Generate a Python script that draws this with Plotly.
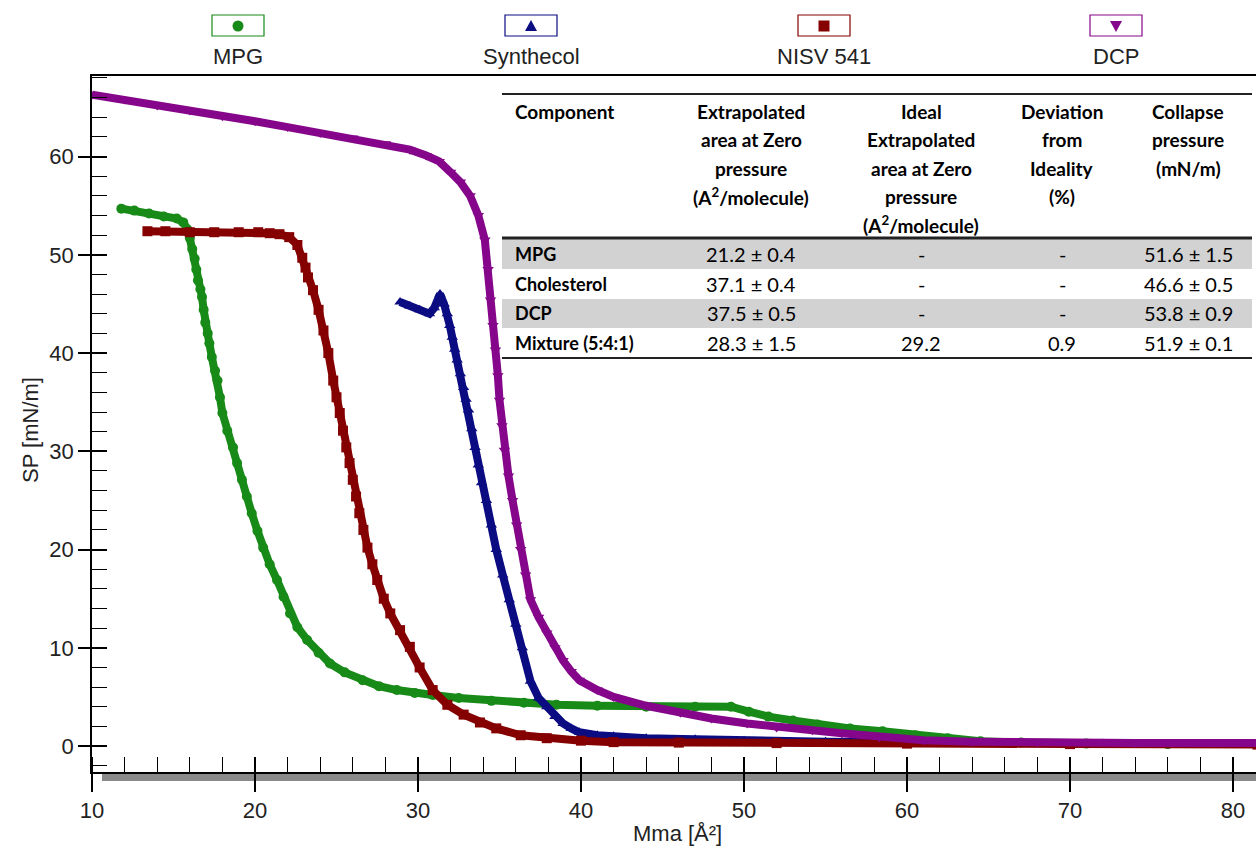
import plotly.graph_objects as go

# ---------------- data ----------------
series_names = ["MPG", "Synthecol", "NISV 541", "DCP"]
series_colors = ["#178a17", "#0b0b82", "#850000", "#85068a"]
series_symbols = ["circle", "triangle-up", "square", "triangle-down"]

mpg_x = [11.8, 12.6, 13.5, 14.4, 15.2, 15.6, 15.85, 16.0, 16.15, 16.3, 16.4, 16.5, 16.65, 16.75,
         16.85, 16.95, 17.1, 17.2, 17.35, 17.55, 17.7, 17.85, 18.0, 18.3, 18.65, 18.9, 19.2, 19.5,
         19.8, 20.15, 20.5, 20.9, 21.35, 21.75, 22.15, 22.6, 23.2, 23.9, 24.6, 25.5, 26.6, 27.6,
         28.7, 29.8, 30.9, 32.5, 34.5, 36.5, 38.5, 41.0, 44.0, 47.0, 49.2, 50.3, 51.5, 53.0, 54.5,
         56.5, 58.5, 60.5, 62.5, 64.5, 67.0, 71.0, 76.0, 81.5]
mpg_y = [54.7, 54.5, 54.2, 53.9, 53.7, 53.3, 52.6, 51.7, 50.6, 49.6, 48.5, 47.4, 46.5, 45.7,
         44.4, 43.1, 42.0, 41.0, 39.6, 38.2, 37.2, 35.5, 33.9, 32.1, 30.4, 28.8, 27.1, 25.4,
         23.7, 21.9, 20.2, 18.5, 16.9, 15.2, 13.5, 12.1, 10.8, 9.5, 8.4, 7.5, 6.7, 6.1,
         5.7, 5.4, 5.2, 4.9, 4.6, 4.4, 4.2, 4.1, 4.0, 4.0, 4.0, 3.5, 3.0, 2.6, 2.2,
         1.8, 1.5, 1.1, 0.8, 0.5, 0.35, 0.25, 0.2, 0.2]

syn_x = [28.9, 29.5, 30.1, 30.7, 31.0, 31.35, 31.6, 31.8, 31.95, 32.1, 32.25, 32.4, 32.6, 32.8,
         32.95, 33.1, 33.3, 33.5, 33.7, 33.9, 34.2, 34.5, 34.8, 35.2, 35.6, 36.0, 36.4, 36.9,
         37.4, 37.9, 38.4, 38.9, 39.4, 39.9, 41.0, 42.0, 44.0, 47.0, 50.0, 55.0, 60.0, 66.0,
         72.0, 81.5]
syn_y = [45.2, 44.8, 44.4, 44.0, 44.6, 46.0, 45.0, 44.0, 42.8, 41.6, 40.4, 39.3, 37.9, 36.5,
         35.3, 34.2, 32.3, 30.4, 28.6, 26.8, 25.0, 22.5, 20.0, 17.4, 14.9, 12.4, 10.0, 6.6,
         4.9, 4.0, 3.0, 2.3, 1.8, 1.4, 1.1, 1.0, 0.8, 0.7, 0.55, 0.45, 0.35, 0.3,
         0.25, 0.2]

nisv_x = [13.4, 14.5, 16.0, 17.5, 19.0, 20.2, 20.9, 21.5, 22.1, 22.6, 22.9, 23.1, 23.25, 23.56,
          23.9, 24.2, 24.5, 24.8, 25.0, 25.2, 25.4, 25.6, 25.8, 26.0, 26.2, 26.4, 26.65, 26.9,
          27.2, 27.5, 27.9, 28.3, 28.9, 29.5, 30.1, 30.9, 31.8, 32.8, 33.8, 34.8, 36.3, 37.9,
          40.0, 42.0, 46.0, 52.0, 60.0, 70.0, 81.5]
nisv_y = [52.4, 52.4, 52.3, 52.3, 52.3, 52.3, 52.2, 52.1, 51.8, 51.0, 49.7, 48.7, 47.7, 46.4,
          44.4, 42.3, 40.0, 37.2, 35.5, 33.9, 32.1, 30.4, 28.8, 27.1, 25.4, 23.7, 22.0, 20.2,
          18.5, 16.9, 15.0, 13.5, 11.8, 10.1, 8.0, 5.7, 4.2, 3.2, 2.4, 1.8, 1.1, 0.8,
          0.55, 0.4, 0.35, 0.3, 0.25, 0.2, 0.15]

dcp_x = [10.0, 12.0, 14.0, 16.0, 18.0, 20.0, 22.0, 24.0, 26.0, 28.0, 29.5, 30.5, 31.3, 32.0,
         32.6, 33.2, 33.7, 34.1, 34.3, 34.45, 34.6, 34.75, 34.9, 35.0, 35.15, 35.3, 35.55, 35.8,
         36.05, 36.3, 36.6, 36.9, 37.4, 37.9, 38.4, 38.9, 39.4, 39.9, 41.0, 42.0, 44.0, 46.1,
         48.0, 50.2, 52.0, 54.2, 56.0, 58.3, 61.0, 64.0, 68.0, 74.0, 81.5]
dcp_y = [66.3, 65.8, 65.2, 64.7, 64.1, 63.6, 63.0, 62.4, 61.9, 61.3, 60.7, 60.1, 59.5, 58.4,
         57.4, 56.0, 54.0, 51.5, 48.5, 45.4, 42.8, 40.3, 37.7, 35.2, 32.6, 30.1, 27.5, 25.0,
         22.5, 20.0, 17.4, 14.9, 13.1, 11.5, 10.0, 8.7, 7.6, 6.7, 5.7, 5.0, 4.1, 3.4,
         2.8, 2.3, 1.9, 1.6, 1.3, 0.9, 0.6, 0.45, 0.35, 0.3, 0.3]

series_x = [mpg_x, syn_x, nisv_x, dcp_x]
series_y = [mpg_y, syn_y, nisv_y, dcp_y]

x_range = [10, 81.41]
y_range = [-2.64, 68.2]

# table content
table_header_cols = [
    ["Component"],
    ["Extrapolated", "area at Zero", "pressure", "(A<sup>2</sup>/molecule)"],
    ["Ideal", "Extrapolated", "area at Zero", "pressure", "(A<sup>2</sup>/molecule)"],
    ["Deviation", "from", "Ideality", "(%)"],
    ["Collapse", "pressure", "(mN/m)"],
]
table_rows = ["MPG", "Cholesterol", "DCP", "Mixture (5:4:1)"]
col_extrap = ["21.2 \u00b1 0.4", "37.1 \u00b1 0.4", "37.5 \u00b1 0.5", "28.3 \u00b1 1.5"]
col_ideal = ["-", "-", "-", "29.2"]
col_dev = ["-", "-", "-", "0.9"]
col_collapse = ["51.6 \u00b1 1.5", "46.6 \u00b1 0.5", "53.8 \u00b1 0.9", "51.9 \u00b1 0.1"]

# ---------------- layout geometry (pixels) ----------------
W, H = 1256, 849
L, R, T, B = 92, 0, 76, 77
PW, PH = W - L - R, H - T - B


def px(x):
    return (x - L) / PW


def py(y):
    return (H - B - y) / PH


fig = go.Figure()

for name, xs, ys, col, sym in zip(series_names, series_x, series_y, series_colors, series_symbols):
    fig.add_trace(go.Scatter(
        x=xs, y=ys, name=name, mode="lines+markers",
        line=dict(color=col, width=8),
        marker=dict(symbol=sym, size=10, color=col),
        showlegend=False, hoverinfo="skip"))

# overlay axes (no visible data) used to draw the inner half of the major ticks
fig.add_trace(go.Scatter(x=[10], y=[0], xaxis="x2", yaxis="y2", mode="markers",
                         marker=dict(size=1, opacity=0), showlegend=False, hoverinfo="skip"))

tickfont = dict(family="Liberation Sans, Arial, sans-serif", size=22, color="#222")

fig.update_layout(
    width=W, height=H,
    margin=dict(l=L, r=R, t=T, b=B),
    paper_bgcolor="white", plot_bgcolor="white",
    showlegend=False,
    xaxis=dict(range=x_range, showline=True, linecolor="black", linewidth=1.5, mirror=True,
               ticks="outside", ticklen=18, tickwidth=1.5, tickcolor="black",
               tick0=10, dtick=10, showgrid=False, zeroline=False, tickfont=tickfont,
               minor=dict(ticks="inside", ticklen=15, tickwidth=1.2, tickcolor="black",
                          dtick=2, tick0=10, showgrid=False)),
    yaxis=dict(range=y_range, showline=True, linecolor="black", linewidth=1.5,
               ticks="outside", ticklen=12, tickwidth=1.5, tickcolor="black",
               tick0=0, dtick=10, showgrid=False, zeroline=False, tickfont=tickfont,
               minor=dict(ticks="inside", ticklen=15, tickwidth=1.2, tickcolor="black",
                          dtick=2, tick0=0, showgrid=False)),
    xaxis2=dict(range=x_range, overlaying="x", anchor="y", side="bottom",
                ticks="inside", ticklen=15, tickwidth=1.5, tickcolor="black",
                tick0=10, dtick=10, showticklabels=False, showgrid=False,
                zeroline=False, showline=False),
    yaxis2=dict(range=y_range, overlaying="y", anchor="x", side="left",
                ticks="inside", ticklen=15, tickwidth=1.5, tickcolor="black",
                tick0=0, dtick=10, showticklabels=False, showgrid=False,
                zeroline=False, showline=False),
)

shapes = []
ann = []

# grey bar under the x axis
shapes.append(dict(type="rect", xref="paper", yref="paper", x0=px(102), x1=1.0,
                   y0=py(781), y1=py(773), fillcolor="#8a8a8a", line=dict(width=0),
                   layer="below"))

# axis titles
title_font = dict(family="Liberation Sans, Arial, sans-serif", size=22, color="#222")
ann.append(dict(text="Mma [\u00c5\u00b2]", x=px(677), y=py(833), xref="paper", yref="paper",
                showarrow=False, xanchor="center", yanchor="middle", font=title_font))
ann.append(dict(text="SP [mN/m]", x=px(30), y=py(430), xref="paper", yref="paper",
                showarrow=False, xanchor="center", yanchor="middle", textangle=-90,
                font=title_font))


def poly(points):
    return "M " + " L ".join(f"{px(a):.5f},{py(b):.5f}" for a, b in points) + " Z"


# legend on top (box + symbol + label)
legend_centers = [238, 531, 824, 1116]
for cx, name, col, sym in zip(legend_centers, series_names, series_colors, series_symbols):
    shapes.append(dict(type="rect", xref="paper", yref="paper", x0=px(cx - 26), x1=px(cx + 26),
                       y0=py(36), y1=py(15), line=dict(color=col, width=1.2),
                       fillcolor="white"))
    cy = 26
    if sym == "circle":
        shapes.append(dict(type="circle", xref="paper", yref="paper",
                           x0=px(cx - 5.5), x1=px(cx + 5.5), y0=py(cy + 5.5), y1=py(cy - 5.5),
                           fillcolor=col, line=dict(width=0)))
    elif sym == "square":
        shapes.append(dict(type="rect", xref="paper", yref="paper",
                           x0=px(cx - 5.5), x1=px(cx + 5.5), y0=py(cy + 5.5), y1=py(cy - 5.5),
                           fillcolor=col, line=dict(width=0)))
    elif sym == "triangle-up":
        shapes.append(dict(type="path", xref="paper", yref="paper",
                           path=poly([(cx - 6, cy + 5), (cx + 6, cy + 5), (cx, cy - 6)]),
                           fillcolor=col, line=dict(width=0)))
    else:
        shapes.append(dict(type="path", xref="paper", yref="paper",
                           path=poly([(cx - 6, cy - 5), (cx + 6, cy - 5), (cx, cy + 6)]),
                           fillcolor=col, line=dict(width=0)))
    ann.append(dict(text=name, x=px(cx), y=py(57), xref="paper", yref="paper", showarrow=False,
                    xanchor="center", yanchor="middle", font=title_font))

# table
TX0, TX1 = 502, 1252
for y0, y1 in [(239, 269), (299, 328)]:
    shapes.append(dict(type="rect", xref="paper", yref="paper", x0=px(TX0), x1=px(TX1),
                       y0=py(y1), y1=py(y0), fillcolor="#d2d2d2", line=dict(width=0)))
for yy, lw in [(94, 2), (238, 3), (358, 2)]:
    shapes.append(dict(type="line", xref="paper", yref="paper", x0=px(TX0), x1=px(TX1),
                       y0=py(yy), y1=py(yy), line=dict(color="#222", width=lw)))

tfont_b = dict(family="Lato, Open Sans, sans-serif", size=19, color="black")
tfont_r = dict(family="Lato, Open Sans, sans-serif", size=20, color="black")
col_centers = [513, 751, 921, 1062, 1188]
header_ys = [111, 139.5, 168, 196.5, 225]
for ci, lines in enumerate(table_header_cols):
    for li, txt in enumerate(lines):
        ann.append(dict(text="<b>" + txt + "</b>", x=px(col_centers[ci]), y=py(header_ys[li]),
                        xref="paper", yref="paper", showarrow=False,
                        xanchor="left" if ci == 0 else "center", yanchor="middle",
                        font=tfont_b))

row_ys = [254, 284, 313, 343]
for ri, yy in enumerate(row_ys):
    ann.append(dict(text="<b>" + table_rows[ri] + "</b>", x=px(col_centers[0]), y=py(yy),
                    xref="paper", yref="paper", showarrow=False, xanchor="left",
                    yanchor="middle", font=dict(tfont_b, size=18)))
    for ci, colvals in zip([1, 2, 3, 4], [col_extrap, col_ideal, col_dev, col_collapse]):
        ann.append(dict(text=colvals[ri], x=px(col_centers[ci]), y=py(yy),
                        xref="paper", yref="paper", showarrow=False, xanchor="center",
                        yanchor="middle", font=tfont_r))

fig.update_layout(shapes=shapes, annotations=ann)
fig.write_html("out.html")
